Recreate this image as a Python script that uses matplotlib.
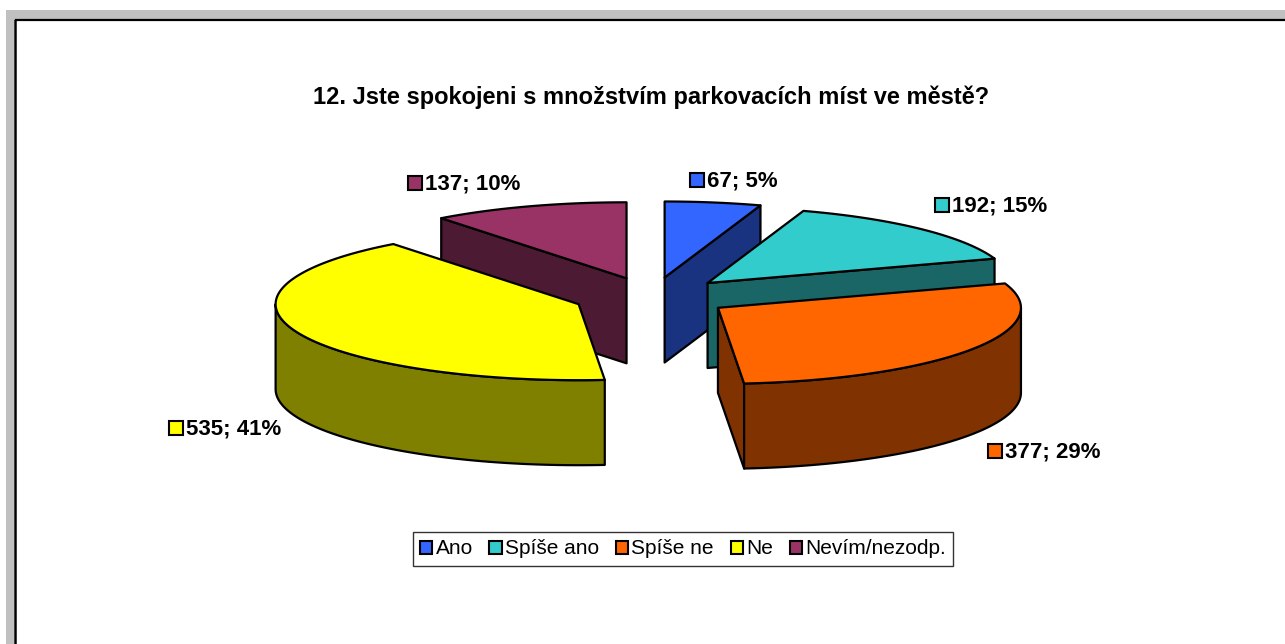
"""
Exploded 3D pie (Excel style): parking satisfaction survey.
"""

import numpy as np
import matplotlib.pyplot as plt
from matplotlib.patches import Polygon, Rectangle, Patch

plt.rcParams["font.family"] = ["Liberation Sans", "DejaVu Sans"]

# ---------------------------------------------------------------------------
# Data
# ---------------------------------------------------------------------------
TITLE = "12. Jste spokojeni s množstvím parkovacích míst ve městě?"
labels = ["Ano", "Spíše ano", "Spíše ne", "Ne", "Nevím/nezodp."]
counts = [67, 192, 377, 535, 137]
top_colors = ["#3366FF", "#33CCCC", "#FF6600", "#FFFF00", "#993366"]
side_colors = ["#1A3380", "#1A6666", "#803300", "#808000", "#4D1A33"]

# ---------------------------------------------------------------------------
# Layout (pixels)
# ---------------------------------------------------------------------------
W, H = 1285, 644
CX, CY = 652, 297        # pie centre (top face)
RX, RY = 303, 76         # projected radii
DEPTH = 85               # pie thickness
EXPLODE = 0.26           # explosion, fraction of radius
label_pos = [(690, 180), (935, 205), (988, 451), (169, 428), (408, 183)]

fig = plt.figure(figsize=(W / 100, H / 100), dpi=100)
ax = fig.add_axes([0, 0, 1, 1])
ax.set_xlim(0, W)
ax.set_ylim(H, 0)
ax.axis("off")

# window frame (grey band + black inner line on top / left)
ax.add_patch(Rectangle((6, 10), W - 6, 9, facecolor="#C0C0C0", edgecolor="none"))
ax.add_patch(Rectangle((6, 10), 8, H - 10, facecolor="#C0C0C0", edgecolor="none"))
ax.plot([15, W], [19.5, 19.5], color="black", lw=1.6, solid_capstyle="butt")
ax.plot([15, 15], [19, H], color="black", lw=1.8, solid_capstyle="butt")


def rim(c, th, dz=0.0):
    return (c[0] + RX * np.sin(th), c[1] - RY * np.cos(th) + dz)


def arc(c, t0, t1, dz=0.0):
    n = max(int(abs(t1 - t0) / 0.02), 2)
    return [rim(c, t, dz) for t in np.linspace(t0, t1, n)]


total = sum(counts)
fracs = np.array(counts) / total
bounds = np.concatenate([[0], np.cumsum(fracs)]) * 2 * np.pi
mids = (bounds[:-1] + bounds[1:]) / 2

order = np.argsort(-np.cos(mids))  # back to front
edge = dict(edgecolor="black", linewidth=1.6, joinstyle="round")

for i in order:
    t1, t2 = bounds[i], bounds[i + 1]
    c = (CX + EXPLODE * RX * np.sin(mids[i]), CY - EXPLODE * RY * np.cos(mids[i]))
    cb = (c[0], c[1] + DEPTH)

    # radial face at start angle
    if np.sin(t1) < -1e-6:
        quad = [c, rim(c, t1), rim(c, t1, DEPTH), cb]
        ax.add_patch(Polygon(quad, closed=True, facecolor=side_colors[i], **edge))
    # radial face at end angle
    if np.sin(t2) > 1e-6:
        quad = [c, rim(c, t2), rim(c, t2, DEPTH), cb]
        ax.add_patch(Polygon(quad, closed=True, facecolor=side_colors[i], **edge))
    # outer curved side (front half only)
    lo, hi = max(t1, np.pi / 2), min(t2, 3 * np.pi / 2)
    if lo < hi:
        side = arc(c, lo, hi) + arc(c, hi, lo, DEPTH)
        ax.add_patch(Polygon(side, closed=True, facecolor=side_colors[i], **edge))
    # top face
    top = [c] + arc(c, t1, t2)
    ax.add_patch(Polygon(top, closed=True, facecolor=top_colors[i], **edge))

# data labels with colour keys
for i, (x, y) in enumerate(label_pos):
    ax.add_patch(Rectangle((x, y - 7), 14, 14, facecolor=top_colors[i],
                           edgecolor="black", linewidth=1.5))
    txt = f"{counts[i]}; {round(100 * counts[i] / total)}%"
    ax.text(x + 17, y + 0.5, txt, ha="left", va="center", fontsize=16, fontweight="bold")

ax.text(651, 97, TITLE, ha="center", va="center", fontsize=17, fontweight="bold")

handles = [Patch(facecolor=top_colors[i], edgecolor="black", linewidth=1.5, label=labels[i])
           for i in range(len(labels))]
leg = ax.legend(handles=handles, loc="center", bbox_to_anchor=(683, 549),
                bbox_transform=ax.transData, ncol=5, fontsize=15, frameon=True,
                fancybox=False, handlelength=0.6, handleheight=0.6,
                handletextpad=0.15, columnspacing=0.8, borderpad=0.35)
leg.get_frame().set_edgecolor("black")
leg.get_frame().set_linewidth(1.0)

plt.savefig("out.png", dpi=100)
plt.close()
